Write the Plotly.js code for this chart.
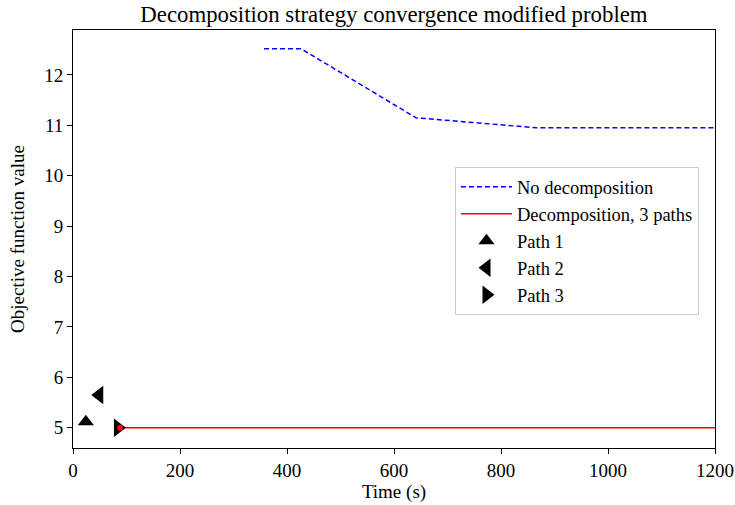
<!DOCTYPE html>
<html><head><meta charset="utf-8">
<script src="https://cdn.plot.ly/plotly-3.0.1.min.js"></script>
<style>body{margin:0;padding:0;background:#fff}#chart{width:735px;height:505px}</style>
</head><body><div id="chart"></div>
<script>
const noDecompTime = [357, 426, 641, 867, 1200];
const noDecompObj = [12.52, 12.52, 11.15, 10.95, 10.95];
const decompTime = [88, 1200];
const decompObj = [5.0, 5.0];
const path1 = {t: [24], v: [5.12]};
const path2 = {t: [49], v: [5.65]};
const path3 = {t: [84], v: [5.0]};
const xTicks = [0, 200, 400, 600, 800, 1000, 1200];
const yTicks = [5, 6, 7, 8, 9, 10, 11, 12];

const fam = 'Liberation Serif, Times New Roman, serif';
const font = {family: fam, size: 19, color: '#000'};
const traces = [
  {x: noDecompTime, y: noDecompObj, mode: 'lines', name: 'No decomposition',
   line: {color: '#0000ff', width: 1.5, dash: '5px,3px'}},
  {x: decompTime, y: decompObj, mode: 'lines', name: 'Decomposition, 3 paths',
   line: {color: '#ff0000', width: 1.5}},
  {x: path1.t, y: path1.v, mode: 'markers', name: 'Path 1',
   marker: {symbol: 'triangle-up', size: 14, color: '#000'}},
  {x: path2.t, y: path2.v, mode: 'markers', name: 'Path 2',
   marker: {symbol: 'triangle-left', size: 16, color: '#000'}},
  {x: path3.t, y: path3.v, mode: 'markers', name: 'Path 3',
   marker: {symbol: 'triangle-right', size: 16, color: '#000'}},
  {x: [decompTime[0]], y: [decompObj[0]], mode: 'markers', showlegend: false, hoverinfo: 'skip',
   marker: {symbol: 'circle', size: 6, color: '#ff0000'}}
];
const layout = {
  width: 735, height: 505,
  margin: {l: 73, r: 20, t: 30, b: 57},
  paper_bgcolor: '#fff', plot_bgcolor: '#fff',
  font: font,
  title: {text: 'Decomposition strategy convergence modified problem', x: 0.536, xanchor: 'center', y: 0.973, yanchor: 'middle', font: {family: fam, size: 22.8, color: '#000'}},
  xaxis: {range: [0, 1200], tickvals: xTicks, ticktext: xTicks.map(String), ticks: 'outside', ticklen: 5, tickwidth: 1, tickcolor: '#000',
    showline: true, mirror: true, linecolor: '#000', linewidth: 1, showgrid: false, zeroline: false,
    title: {text: 'Time (s)', font: font, standoff: 4}},
  yaxis: {range: [4.6, 12.89], tickvals: yTicks, ticktext: yTicks.map(String), ticks: 'outside', ticklen: 5, tickwidth: 1, tickcolor: '#000',
    showline: true, mirror: true, linecolor: '#000', linewidth: 1, showgrid: false, zeroline: false,
    title: {text: 'Objective function value', font: font, standoff: 14}},
  legend: {x: 0.595, y: 0.672, xanchor: 'left', yanchor: 'top', bordercolor: '#cccccc', borderwidth: 1, bgcolor: 'rgba(255,255,255,0.8)',
    font: {family: fam, size: 18.5, color: '#000'}, tracegroupgap: 0, itemwidth: 51}
};
Plotly.newPlot('chart', traces, layout, {displayModeBar: false, staticPlot: true});
</script></body></html>
